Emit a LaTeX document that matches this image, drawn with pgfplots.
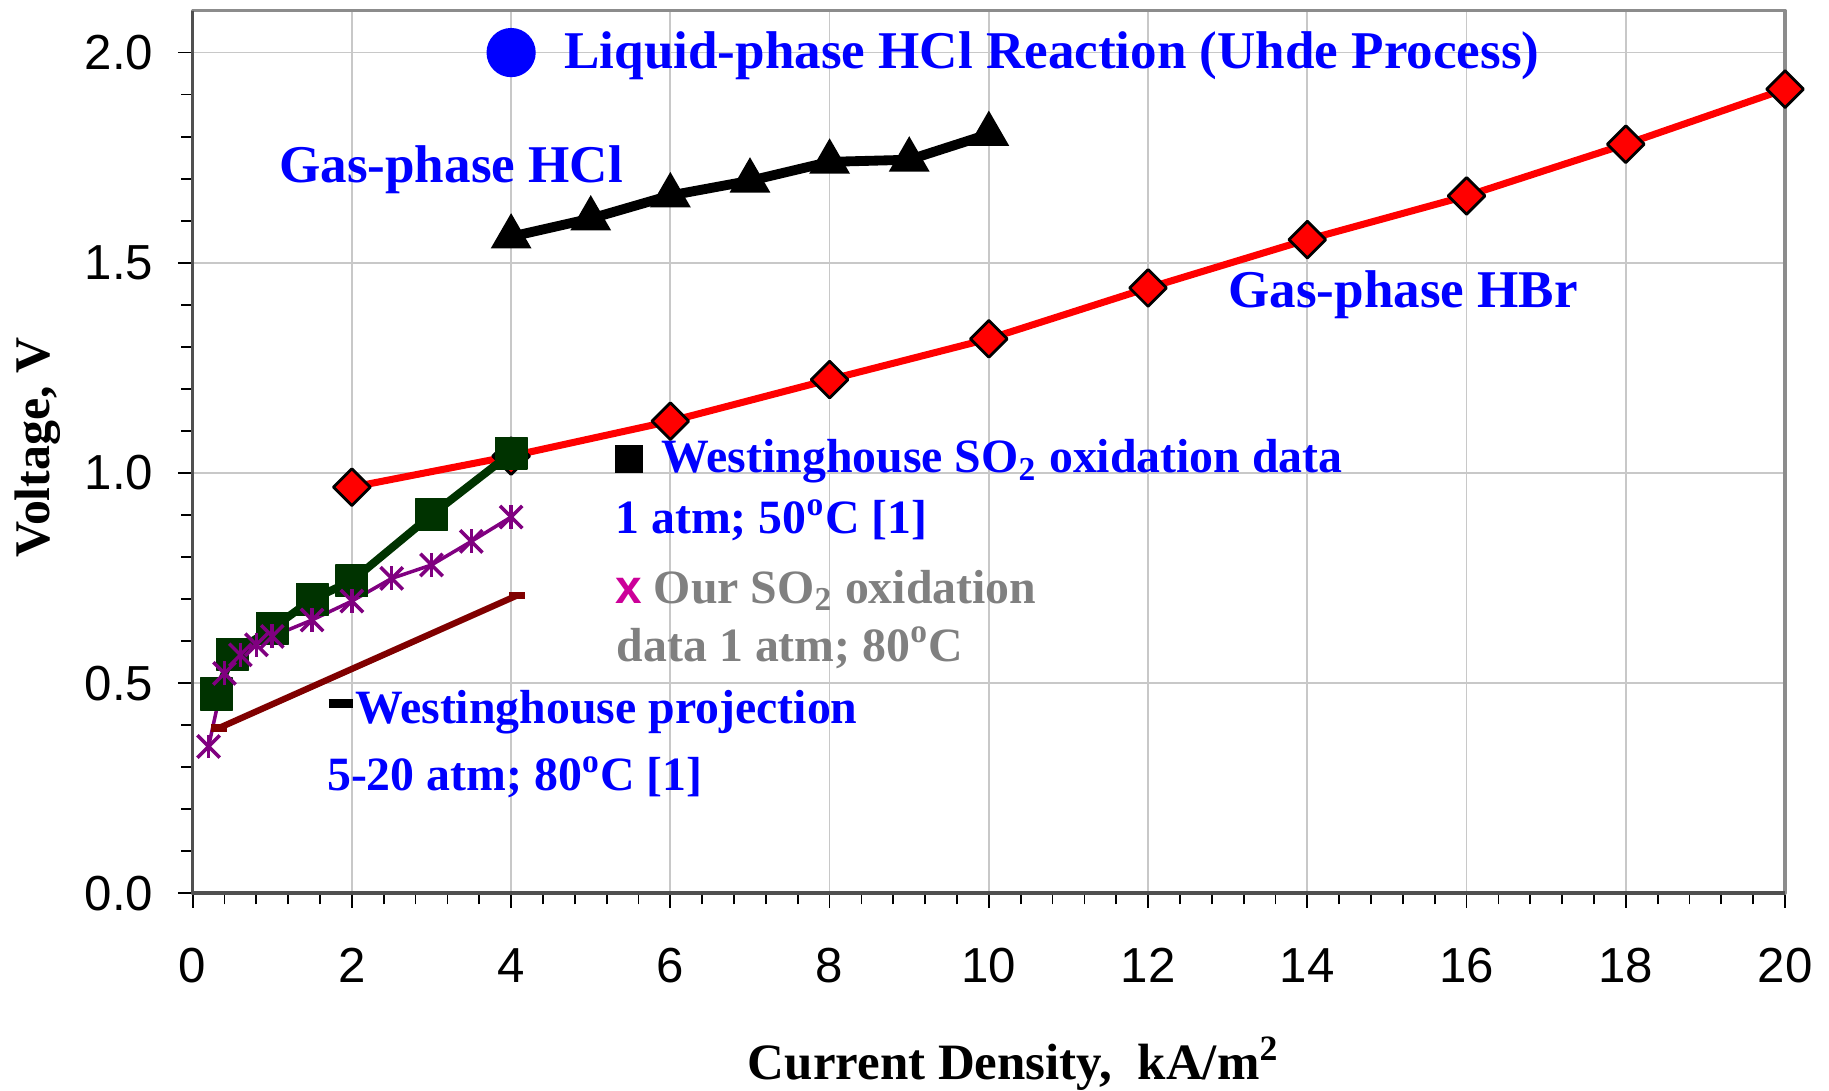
\documentclass[border=0pt]{standalone}
\usepackage{pgfplots}
\usepackage{pgfplotstable}
\pgfplotsset{compat=1.18}
\usepackage{fontspec}
\setmainfont{Liberation Serif}
\newfontfamily\arialfont{Liberation Sans}
\definecolor{dkgreen}{RGB}{0,51,0}
\definecolor{purp}{RGB}{128,0,128}
\definecolor{brn}{RGB}{128,0,0}
\definecolor{pinkx}{RGB}{204,0,153}
\definecolor{txtgray}{RGB}{128,128,128}
\definecolor{gridc}{RGB}{200,200,200}
\definecolor{framec}{RGB}{140,140,140}
\definecolor{axisc}{RGB}{80,80,80}

\pgfplotstableread{
x y
0.2 0.349
0.4 0.523
0.6 0.567
0.8 0.591
1.0 0.611
1.5 0.650
2.0 0.695
2.5 0.749
3.0 0.781
3.5 0.837
4.0 0.895
}\purpdata

\begin{document}
\begin{tikzpicture}
\path[use as bounding box] (-54.8pt,-56.2pt) rectangle (465.5pt,254.1pt);
\begin{axis}[
  at={(0pt,0pt)}, anchor=south west,
  scale only axis, width=453pt, height=251.1pt,
  xmin=0, xmax=20, ymin=0, ymax=2.1,
  xtick={0,2,...,20}, ytick={0,0.5,1.0,1.5,2.0},
  minor x tick num=4, minor y tick num=4,
  tick align=outside, tick pos=left,
  major tick length=4.2pt, minor tick length=3.2pt,
  grid=major, major grid style={gridc, line width=0.5pt},
  axis line style={framec, line width=1pt},
  tick style={black, line width=0.5pt},
  tick label style={font=\arialfont\fontsize{14}{14}\selectfont, /pgf/number format/assume math mode=true},
  yticklabel style={/pgf/number format/fixed, /pgf/number format/fixed zerofill, /pgf/number format/precision=1, anchor=east, inner sep=0pt, xshift=-6.8pt},
  xticklabel style={anchor=north, inner sep=0pt, yshift=-11.3pt},
  xlabel={Current Density,\ \ kA/m\textsuperscript{2}},
  ylabel={Voltage, V},
  xlabel style={at={(axis description cs:0.5155,-0.193)}, anchor=center, font=\bfseries\fontsize{14.5}{16}\selectfont},
  ylabel style={at={(axis description cs:-0.0972,0.505)}, anchor=center, font=\bfseries\fontsize{14.2}{16}\selectfont},
  clip=false,
  line join=round,
]
% left / bottom axis lines darker
\draw[axisc, line width=1pt] (rel axis cs:0,1) -- (rel axis cs:0,0) -- (rel axis cs:1,0);

% Gas-phase HBr
\addplot[red, line width=2pt, mark=square*, mark size=3.7pt,
  mark options={rotate=45, fill=red, draw=black, line width=0.8pt, solid}]
  coordinates {(2,0.966)(4,1.04)(6,1.123)(8,1.222)(10,1.319)(12,1.44)(14,1.555)(16,1.659)(18,1.782)(20,1.913)};

% Gas-phase HCl
\addplot[black, line width=2.8pt, mark=triangle*, mark size=6.2pt,
  mark options={fill=black, draw=black, line width=0.5pt, solid, line join=miter}]
  coordinates {(4,1.562)(5,1.605)(6,1.66)(7,1.695)(8,1.74)(9,1.745)(10,1.806)};

% Westinghouse SO2 oxidation data
\addplot[dkgreen, line width=2.3pt, mark=square*, mark size=4.5pt,
  mark options={fill=dkgreen, draw=dkgreen, line width=0.4pt, solid}]
  coordinates {(0.3,0.474)(0.5,0.569)(1,0.63)(1.5,0.699)(2,0.743)(3,0.9)(4,1.047)};

% Our SO2 oxidation data
\addplot[purp, line width=1pt, mark=x, mark size=4.5pt, mark options={line width=1pt, solid}] table {\purpdata};
\addplot[purp, only marks, mark=|, mark size=3.4pt, mark options={line width=1pt, solid}] table {\purpdata};

% Westinghouse projection
\addplot[brn, line width=1.8pt, mark=-, mark size=2.3pt, mark options={line width=2.2pt, solid}]
  coordinates {(0.33,0.393)(4.07,0.708)};

% Liquid-phase HCl
\addplot[blue, only marks, mark=*, mark size=6.8pt, mark options={fill=blue, draw=blue}]
  coordinates {(4,2.0)};

\node[anchor=base west, inner sep=0pt, text=blue, font=\bfseries\fontsize{15.1}{18}\selectfont]
  at (axis cs:4.66,1.962) {Liquid-phase HCl Reaction (Uhde Process)};
\node[anchor=base west, inner sep=0pt, text=blue, font=\bfseries\fontsize{15.1}{18}\selectfont]
  at (axis cs:1.08,1.69) {Gas-phase HCl};
\node[anchor=base west, inner sep=0pt, text=blue, font=\bfseries\fontsize{15.1}{18}\selectfont]
  at (axis cs:13.0,1.393) {Gas-phase HBr};

\node[anchor=base west, inner sep=0pt, text=blue, font=\bfseries\fontsize{13.6}{16}\selectfont]
  at (axis cs:5.30,1.0) {{\color{black}\rule{7.9pt}{7.9pt}}\hspace{5.2pt}Westinghouse SO\textsubscript{2} oxidation data};
\node[anchor=base west, inner sep=0pt, text=blue, font=\bfseries\fontsize{13.6}{16}\selectfont]
  at (axis cs:5.30,0.856) {1 atm; 50\textsuperscript{o}C [1]};

\node[anchor=base west, inner sep=0pt, text=txtgray, font=\bfseries\fontsize{13.6}{16}\selectfont]
  at (axis cs:5.30,0.69) {{\arialfont\color{pinkx}x} Our SO\textsubscript{2} oxidation};
\node[anchor=base west, inner sep=0pt, text=txtgray, font=\bfseries\fontsize{13.6}{16}\selectfont]
  at (axis cs:5.32,0.552) {data 1 atm; 80\textsuperscript{o}C};

\node[anchor=base west, inner sep=0pt, text=blue, font=\bfseries\fontsize{13.6}{16}\selectfont]
  at (axis cs:1.70,0.404) {{\color{black}\raisebox{4.3pt}{\rule{6.8pt}{2.6pt}}}\hspace{0.7pt}Westinghouse projection};
\node[anchor=base west, inner sep=0pt, text=blue, font=\bfseries\fontsize{13.6}{16}\selectfont]
  at (axis cs:1.68,0.244) {5-20 atm; 80\textsuperscript{o}C [1]};
\end{axis}
\end{tikzpicture}
\end{document}
